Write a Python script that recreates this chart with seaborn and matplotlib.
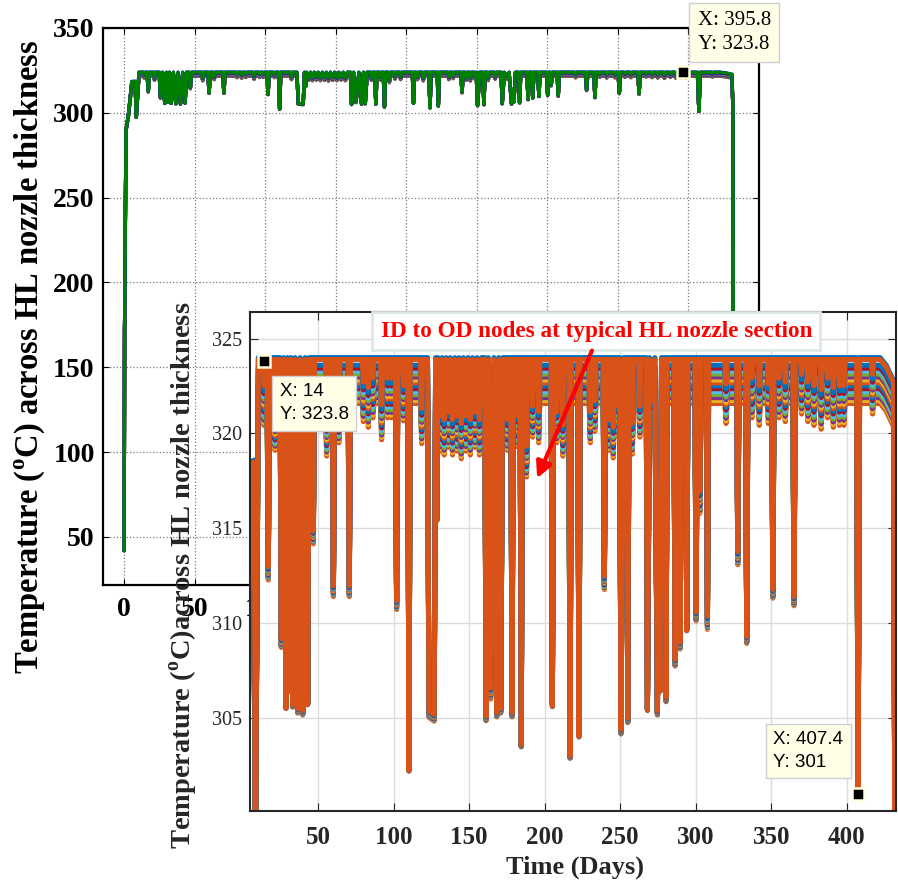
import numpy as np
import pandas as pd
import matplotlib
matplotlib.use("Agg")
import matplotlib.pyplot as plt
import seaborn as sns

# ---- values ----
# ID (inner surface) node, key points: day / temperature (degC) /
# share of the full-power through-wall gradient still present at that point
days = [
    0.0, 0.3, 1.3, 3.0, 5.4, 7.8, 8.6, 10.5,
    13.4, 14.2, 15.0, 16.3, 17.1, 17.9, 20.7, 21.5, 22.3,
    24.9, 25.7, 27.2, 28.8, 29.9, 31.0, 32.1, 33.3, 34.9, 36.6, 38.2, 39.9, 41.5, 43.2, 44.2,
    46.1, 46.9, 47.7, 54.9, 55.7, 56.5, 59.4, 60.2, 61.0, 63.0, 63.8, 64.6, 69.9, 70.7, 71.5,
    79.2, 80.0, 80.8, 82.5, 83.3, 84.1, 85.5, 86.3, 87.1, 91.3, 92.1, 92.9, 95.3, 96.0, 96.8, 97.8, 98.6, 99.4,
    101.2, 102.0, 102.8, 105.7, 106.5, 107.3, 109.4, 110.2, 111.0, 117.8, 118.6, 119.4, 122.5, 123.4, 126.9, 127.8, 128.6, 129.4,
    131.0, 132.2, 133.5, 134.8, 136.2, 137.5, 139.0, 140.5, 142.0, 143.3, 144.8, 146.2, 147.8, 149.2, 150.8, 152.2, 153.8, 155.2, 156.8, 158.2,
    160.4, 161.2, 162.7, 164.3, 166.4, 168.3, 169.6, 170.9, 172.2, 174.5, 175.3, 176.1, 177.6, 178.4, 179.2, 181.0, 181.8, 182.6, 183.7, 184.5, 185.3,
    187.2, 188.0, 188.8, 191.2, 192.0, 192.8, 195.2, 196.0, 196.8,
    204.3, 205.1, 205.9, 207.2, 208.0, 208.8, 211.2, 212.0, 212.8, 216.0, 216.8, 217.6, 221.9, 222.7, 223.5, 229.4, 230.2, 231.0, 232.4, 233.2, 234.0,
    238.7, 239.5, 240.3, 241.8, 242.6, 243.4, 244.6, 245.4, 246.2, 248.0, 248.8, 249.6, 250.5, 252.0, 254.2, 255.0, 255.8, 257.2, 258.0, 258.8, 262.2, 263.0, 263.8,
    267.2, 268.0, 269.4, 271.4, 272.9, 274.6, 275.4, 276.3, 277.3, 279.5, 280.3, 281.1, 285.5, 286.3, 287.1, 288.8, 289.6, 290.4, 293.2, 294.0, 294.8, 299.4, 300.2, 301.0, 301.9, 302.7, 303.5, 306.9, 307.7, 308.5,
    319.2, 320.0, 320.8, 327.0, 327.8, 328.6, 332.9, 333.7, 334.5, 336.4, 337.2, 338.0, 341.2, 342.0, 342.8, 347.2, 348.0, 348.8, 350.2, 351.0, 351.8,
    354.2, 355.0, 355.8, 358.4, 359.2, 360.0, 364.2, 365.0, 365.8, 369.2, 370.0, 370.8, 373.4, 374.2, 375.0, 377.4, 378.2, 379.0, 382.2, 383.0, 383.8, 386.4, 387.2, 388.0, 390.2, 391.0, 391.8, 394.2, 395.0, 395.8, 397.2, 398.0, 398.8,
    406.4, 407.4, 408.4, 416.2, 417.0, 417.8, 422.0, 426.0, 430.8, 431.5, 432.0,
]
t_id = [
    42.0, 172.0, 290.0, 299.0, 318.5, 318.6, 297.5, 324.0,
    324.0, 322.6, 324.0, 324.0, 313.0, 324.0, 324.0, 320.8, 324.0,
    324.0, 309.2, 324.0, 305.5, 324.0, 306.4, 324.0, 305.7, 324.0, 305.5, 324.0, 305.4, 324.0, 305.7, 324.0,
    324.0, 314.9, 324.0, 324.0, 320.5, 324.0, 324.0, 312.0, 324.0, 324.0, 321.2, 324.0, 324.0, 312.0, 324.0,
    324.0, 322.8, 324.0, 324.0, 322.5, 324.0, 324.0, 323.0, 324.0, 324.0, 321.6, 324.0, 324.0, 323.0, 324.0, 324.0, 323.0, 324.0,
    324.0, 311.2, 324.0, 324.0, 322.6, 324.0, 324.0, 302.2, 324.0, 324.0, 321.4, 324.0, 324.0, 305.4, 305.2, 324.0, 315.4, 324.0,
    321.0, 324.0, 320.8, 324.0, 321.2, 324.0, 320.8, 324.0, 321.0, 324.0, 320.6, 324.0, 321.0, 324.0, 320.8, 324.0, 321.2, 324.0, 320.8, 324.0,
    324.0, 305.1, 324.0, 306.6, 324.0, 305.3, 324.0, 305.5, 324.0, 324.0, 320.8, 324.0, 324.0, 305.3, 324.0, 324.0, 321.0, 324.0, 324.0, 303.6, 324.0,
    324.0, 319.4, 324.0, 324.0, 321.5, 324.0, 324.0, 321.2, 324.0,
    324.0, 305.6, 324.0, 324.0, 321.2, 324.0, 324.0, 320.5, 324.0, 324.0, 303.0, 324.0, 324.0, 304.0, 324.0, 324.0, 321.2, 324.0, 324.0, 321.8, 324.0,
    324.0, 312.5, 324.0, 324.0, 320.8, 324.0, 324.0, 320.4, 324.0, 324.0, 321.5, 324.0, 304.4, 324.0, 324.0, 305.0, 324.0, 324.0, 320.6, 324.0, 324.0, 321.5, 324.0,
    324.0, 305.4, 324.0, 321.8, 324.0, 305.4, 314.0, 306.4, 324.0, 324.0, 306.1, 324.0, 324.0, 308.1, 324.0, 324.0, 309.0, 324.0, 324.0, 309.6, 324.0, 324.0, 310.6, 324.0, 324.0, 317.0, 324.0, 324.0, 310.4, 324.0,
    324.0, 322.7, 324.0, 324.0, 313.8, 324.0, 324.0, 309.3, 324.0, 324.0, 323.0, 324.0, 324.0, 322.6, 324.0, 324.0, 322.7, 324.0, 324.0, 311.8, 324.0,
    324.0, 323.0, 324.0, 324.0, 322.8, 324.0, 324.0, 311.4, 324.0, 324.0, 323.2, 324.0, 324.0, 322.8, 324.0, 324.0, 322.6, 324.0, 324.0, 322.4, 324.0, 324.0, 323.0, 324.0, 324.0, 322.5, 324.0, 324.0, 322.6, 324.0, 324.0, 322.6, 324.0,
    324.0, 301.0, 324.0, 324.0, 323.2, 324.0, 324.0, 323.6, 322.8, 304.0, 40.0,
]
spread = [
    0.0, 0.0, 0.3, 0.5, 1.0, 1.0, 0.1, 1.0,
    1.0, 0.9, 1.0, 1.0, 0.3, 1.0, 1.0, 0.7, 1.0,
    1.0, 0.2, 1.0, -0.1, 1.0, -0.1, 1.0, 0.05, 1.0, 0.1, 1.0, 0.1, 1.0, -0.1, 1.0,
    1.0, 0.3, 1.0, 1.0, 0.7, 1.0, 1.0, 0.25, 1.0, 1.0, 0.7, 1.0, 1.0, 0.25, 1.0,
    1.0, 0.9, 1.0, 1.0, 0.9, 1.0, 1.0, 0.9, 1.0, 1.0, 0.8, 1.0, 1.0, 0.9, 1.0, 1.0, 0.9, 1.0,
    1.0, 0.2, 1.0, 1.0, 0.8, 1.0, 1.0, -0.1, 1.0, 1.0, 0.8, 1.0, 1.0, 0.15, 0.15, 1.0, -0.05, 1.0,
    0.8, 1.0, 0.8, 1.0, 0.8, 1.0, 0.8, 1.0, 0.8, 1.0, 0.8, 1.0, 0.8, 1.0, 0.8, 1.0, 0.8, 1.0, 0.8, 1.0,
    1.0, 0.1, 1.0, 0.25, 1.0, 0.1, 1.0, 0.1, 1.0, 1.0, 0.7, 1.0, 1.0, 0.1, 1.0, 1.0, 0.7, 1.0, 1.0, 0.05, 1.0,
    1.0, 0.7, 1.0, 1.0, 0.7, 1.0, 1.0, 0.7, 1.0,
    1.0, -0.1, 1.0, 1.0, 0.7, 1.0, 1.0, 0.7, 1.0, 1.0, 0.05, 1.0, 1.0, -0.1, 1.0, 1.0, 0.7, 1.0, 1.0, 0.7, 1.0,
    1.0, 0.3, 1.0, 1.0, 0.7, 1.0, 1.0, 0.7, 1.0, 1.0, 0.7, 1.0, 0.1, 1.0, 1.0, 0.1, 1.0, 1.0, 0.7, 1.0, 1.0, 0.7, 1.0,
    1.0, -0.05, 1.0, 0.8, 1.0, 0.1, 0.4, -0.1, 1.0, 1.0, 0.1, 1.0, 1.0, 0.15, 1.0, 1.0, 0.15, 1.0, 1.0, -0.1, 1.0, 1.0, 0.2, 1.0, 1.0, 0.5, 1.0, 1.0, 0.3, 1.0,
    1.0, 0.9, 1.0, 1.0, 0.3, 1.0, 1.0, 0.15, 1.0, 1.0, 0.9, 1.0, 1.0, 0.9, 1.0, 1.0, 0.9, 1.0, 1.0, 0.2, 1.0,
    1.0, 0.9, 1.0, 1.0, 0.9, 1.0, 1.0, 0.2, 1.0, 1.0, 0.9, 1.0, 1.0, 0.9, 1.0, 1.0, 0.9, 1.0, 1.0, 0.9, 1.0, 1.0, 0.9, 1.0, 1.0, 0.9, 1.0, 1.0, 0.9, 1.0, 1.0, 0.9, 1.0,
    1.0, 0.0, 1.0, 1.0, 0.9, 1.0, 1.0, 1.0, 1.0, 0.3, 0.0,
]

# degC below the ID node at full power, node 1 (OD) .. node 15
node_drop = [2.42, 2.26, 2.11, 1.95, 1.80, 1.64, 1.49, 1.33, 1.18, 1.02, 0.87, 0.71, 0.56, 0.40, 0.10]

outer_tip = (395.8, 323.8)
inset_tips = [(14, 323.8), (407.4, 301)]

matlab_new = ["#0072BD", "#D95319", "#EDB120", "#7E2F8E", "#77AC30", "#4DBEEE", "#A2142F"]
matlab_old = ["#0000FF", "#008000", "#FF0000", "#00BFBF", "#BF00BF", "#BFBF00", "#404040"]


def buildNodes() -> pd.DataFrame:
    d = np.array(days)
    t = np.array(t_id)
    s = np.array(spread)
    frames = []
    for k, drop in enumerate([0.0] + node_drop):
        frames.append(pd.DataFrame({"day": d, "temp": t - drop * s, "node": f"n{k:02d}"}))
    return pd.concat(frames, ignore_index=True)


def addDataTip(ax, xy, offset, family, size, spacing):
    ax.plot([xy[0]], [xy[1]], marker="s", ms=8.5, mfc="black", mec="#FFFFE0", mew=1.8,
            zorder=6, clip_on=False)
    ax.annotate(f"X: {xy[0]}\nY: {xy[1]}", xy=xy, xytext=offset, textcoords="offset pixels",
                ha="left", va="center", family=family, fontsize=size, color="black",
                linespacing=spacing, zorder=7,
                bbox=dict(boxstyle="square,pad=0.4", fc="#FFFFE8", ec="#CFCFCF", lw=1),
                annotation_clip=False)


sns.set_style("white")
plt.rcParams["font.family"] = ["Liberation Serif", "DejaVu Serif"]
plt.rcParams["mathtext.fontset"] = "custom"
plt.rcParams["mathtext.rm"] = "Liberation Serif"
plt.rcParams["mathtext.bf"] = "Liberation Serif:bold"

df = buildNodes()
nodes = sorted(df["node"].unique())

fig = plt.figure(figsize=(8.98, 8.83), dpi=100)
ax = fig.add_axes([0.1147, 0.3375, 0.7305, 0.6308])
ax_in = fig.add_axes([0.2784, 0.0815, 0.7194, 0.5651])

# ---- full history ----
sns.lineplot(data=df, x="day", y="temp", hue="node", hue_order=nodes,
             palette=[matlab_old[k % 7] for k in range(len(nodes))],
             estimator=None, sort=False, legend=False, lw=2.4, ax=ax)
ax.set_xlim(-15, 450)
ax.set_ylim(21.7, 350)
ax.set_xticks(range(0, 401, 50))
ax.set_yticks(range(50, 351, 50))
ax.grid(True, ls=":", color="#7a7a7a", lw=0.9)
ax.tick_params(direction="in", top=True, right=True, bottom=True, left=True,
               length=4, labelsize=20, colors="black")
ax.tick_params(axis="x", pad=9)
ax.tick_params(axis="y", pad=6)
plt.setp(ax.get_xticklabels() + ax.get_yticklabels(), fontweight="bold")
for sp in ax.spines.values():
    sp.set_color("black")
    sp.set_linewidth(1.6)
ax.set_xlabel("")
ax.set_ylabel(r"Temperature ($^\mathbf{o}$C) across HL nozzle thickness",
              fontsize=23.5, fontweight="bold", color="black")
ax.yaxis.set_label_coords(-0.085, 0.409)
addDataTip(ax, outer_tip, (15, 40), ["Liberation Serif"], 15, 1.35)

# ---- zoomed inset ----
sns.lineplot(data=df, x="day", y="temp", hue="node", hue_order=nodes,
             palette=[matlab_new[k % 7] for k in range(len(nodes))],
             estimator=None, sort=False, legend=False, lw=3.6, ax=ax_in)
ax_in.set_facecolor("white")
ax_in.set_xlim(5.0, 432.5)
ax_in.set_ylim(300.1, 326.4)
ax_in.set_xticks(range(50, 401, 50))
ax_in.set_yticks(range(305, 326, 5))
ax_in.grid(True, color="#DCDCDC", lw=1)
ax_in.set_axisbelow(True)
ax_in.tick_params(axis="x", direction="in", top=True, bottom=True, length=6,
                  labelsize=18, pad=11, colors="#262626")
ax_in.tick_params(axis="y", direction="in", left=True, right=True, length=6,
                  labelsize=14.5, pad=6, colors="#262626")
plt.setp(ax_in.get_xticklabels(), fontweight="bold")
for sp in ax_in.spines.values():
    sp.set_color("#262626")
    sp.set_linewidth(1.5)
ax_in.set_xlabel("Time (Days)", fontsize=19, fontweight="bold", color="#262626")
ax_in.xaxis.set_label_coords(0.503, -0.09)
ax_in.set_ylabel(r"Temperature ($^\mathbf{o}$C)across HL nozzle thickness",
                 fontsize=20.5, fontweight="bold", color="#262626")
ax_in.yaxis.set_label_coords(-0.077, 0.473)

ax_in.text(0.536, 0.962, "ID to OD nodes at typical HL nozzle section",
           transform=ax_in.transAxes, ha="center", va="center", color="red",
           fontsize=16.7, fontweight="bold", zorder=8,
           bbox=dict(boxstyle="square,pad=0.35", fc="white", ec="#DDE8E2", lw=2))
ax_in.annotate("", xy=(194.3, 317.5), xytext=(232.0, 324.5),
               arrowprops=dict(arrowstyle="-|>", color="red", lw=3, mutation_scale=24),
               zorder=9)

addDataTip(ax_in, inset_tips[0], (16, -42), ["Liberation Sans"], 13.5, 1.45)
addDataTip(ax_in, inset_tips[1], (-85, 43), ["Liberation Sans"], 13.5, 1.45)

fig.savefig("out.png", dpi=100)
